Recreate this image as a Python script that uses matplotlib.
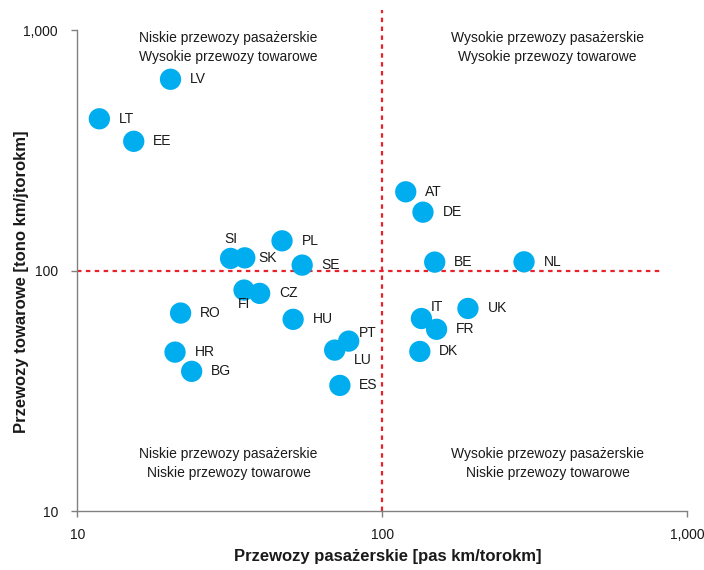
import matplotlib
matplotlib.use("Agg")
import matplotlib.pyplot as plt
from matplotlib.ticker import FixedLocator, FixedFormatter, NullLocator

plt.rcParams['font.family'] = ['Liberation Sans', 'DejaVu Sans']

# Country codes and rail transport intensities
countries = ["LV", "LT", "EE", "SI", "SK", "PL", "SE", "FI", "CZ", "RO", "HU",
             "HR", "BG", "LU", "PT", "ES", "AT", "DE", "BE", "NL", "IT", "FR",
             "UK", "DK"]
passenger = [20.2, 11.8, 15.3, 31.8, 35.4, 46.9, 54.6, 35.2, 39.6, 21.8, 51.0,
             20.9, 23.7, 69.8, 77.6, 72.6, 119.4, 136.0, 148.6, 291.8, 134.4,
             150.7, 191.0, 132.8]
freight = [625, 428, 345, 112.4, 113, 133, 105.4, 83, 80.4, 66.6, 62.7,
           45.8, 38.1, 46.7, 50.9, 33.3, 212.7, 175, 108.5, 108.8, 63.2,
           57.0, 69.6, 46.1]

tick_values = [10, 100, 1000]
tick_labels = ["10", "100", "1,000"]
threshold = 100

quadrant_texts = [
    "Niskie przewozy pasażerskie\nWysokie przewozy towarowe",
    "Wysokie przewozy pasażerskie\nWysokie przewozy towarowe",
    "Niskie przewozy pasażerskie\nNiskie przewozy towarowe",
    "Wysokie przewozy pasażerskie\nNiskie przewozy towarowe",
]

# label placement (offset in points, alignment) for crowded points
default_offset = ((14, 0), "left")
label_offsets = {
    "SI": ((0, 14), "center"),
    "SK": ((10, 0), "left"),
    "FI": ((0, -10), "center"),
    "LU": ((14, -7), "left"),
    "PT": ((7, 6), "left"),
    "IT": ((7, 8), "left"),
}

fig = plt.figure(figsize=(7.04, 5.70), dpi=100)
ax = fig.add_axes([0.110, 0.1035, 0.866, 0.8435])
ax.set_xscale("log")
ax.set_yscale("log")
ax.set_xlim(10, 1000)
ax.set_ylim(10, 1000)

ax.scatter(passenger, freight, s=235, color="#00AEEF", edgecolors="none",
           zorder=3)

for c, x, y in zip(countries, passenger, freight):
    (dx, dy), ha = label_offsets.get(c, default_offset)
    ax.annotate(c, (x, y), xytext=(dx, dy), textcoords="offset points",
                ha=ha, va="center", fontsize=10, color="#1a1a1a", zorder=4)

# dividing lines
red = "#E8212B"
ax.plot([10, 830], [threshold, threshold], color=red, lw=1.6,
        linestyle=(0, (2, 2)), clip_on=False, zorder=2)
ax.plot([threshold, threshold], [10, 1210], color=red, lw=1.6,
        linestyle=(0, (2, 2)), clip_on=False, zorder=2)

# quadrant captions
positions = [(0.248, 0.965), (0.771, 0.965), (0.248, 0.099), (0.771, 0.099)]
for (qx, qy), t in zip(positions, quadrant_texts):
    ax.text(qx, qy, t, transform=ax.transAxes, ha="center", va="center",
            fontsize=10, color="#1a1a1a", linespacing=1.45)

for side in ("top", "right"):
    ax.spines[side].set_visible(False)
for side in ("left", "bottom"):
    ax.spines[side].set_color("#808080")
    ax.spines[side].set_linewidth(1.0)

for axis in (ax.xaxis, ax.yaxis):
    axis.set_major_locator(FixedLocator(tick_values))
    axis.set_major_formatter(FixedFormatter(tick_labels))
    axis.set_minor_locator(NullLocator())
ax.tick_params(axis="both", which="major", direction="out", length=4,
               width=1.0, color="#808080", labelsize=10, labelcolor="#1a1a1a")
ax.tick_params(axis="x", pad=8)
ax.tick_params(axis="y", pad=10)

# axis titles
fig.text(388 / 704, 1 - 556.7 / 570, "Przewozy pasażerskie [pas km/torokm]",
         fontsize=12, fontweight="bold", ha="center", va="center",
         color="#1a1a1a")
fig.text(21.5 / 704, 1 - 282 / 570, "Przewozy towarowe [tono km/jtorokm]",
         fontsize=12, fontweight="bold", ha="center", va="center",
         rotation=90, color="#1a1a1a")

fig.savefig("out.png", dpi=100, facecolor="white")
